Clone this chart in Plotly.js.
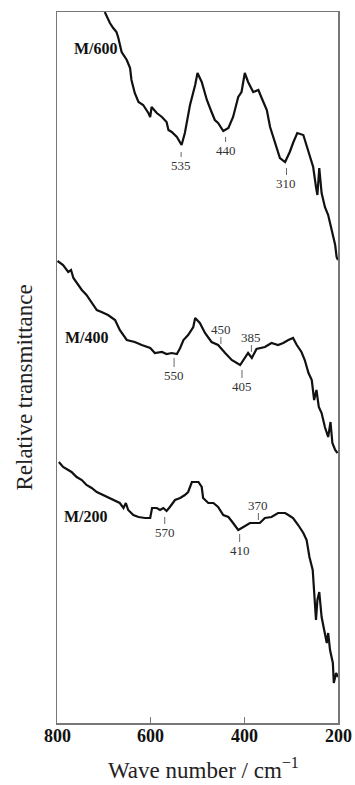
<!DOCTYPE html>
<html>
<head>
<meta charset="utf-8">
<script src="https://cdn.plot.ly/plotly-3.0.1.min.js"></script>
<style>html,body{margin:0;padding:0;background:#fff;}#chart{width:355px;height:785px;}</style>
</head>
<body>
<div id="chart"></div>
<script>
// Wavenumbers (cm-1) and relative transmittance (arbitrary units)
const m600_w = [698,687,680,673,669,662,651,644,641,634,626,616,605,601,598,587,576,566,562,555,544,534,527,516,505,500,491,480,470,463,456,445,434,424,413,406,399,392,381,370,363,352,345,335,324,313,303,296,287,274,267,260,253,247,244,240,235,228,221,217,211,206,203,200];
const m600_v = [711,700,695,691,685,671,663,655,643,630,621,618,610,606,616,610,606,601,593,591,586,578,590,618,638,650,641,623,611,603,600,592,595,606,626,631,650,641,631,633,625,613,596,580,565,561,571,580,590,588,578,566,556,536,528,555,530,516,508,500,486,478,466,463];

const m400_w = [799,787,776,770,765,758,747,737,726,715,705,691,676,666,651,634,619,601,591,576,566,555,544,537,530,520,509,505,495,484,470,456,441,427,409,399,392,384,374,356,342,328,317,306,296,288,278,271,263,256,251,246,241,235,228,221,216,212,206,201];
const m400_v = [462,458,451,453,445,440,433,428,420,413,411,408,403,393,383,381,378,375,370,371,369,370,369,375,383,388,396,405,400,390,381,378,370,363,358,365,370,365,374,376,380,378,380,383,385,378,371,363,350,343,323,333,316,310,296,286,301,280,273,270];

const m200_w = [796,787,776,769,758,747,737,726,715,701,691,680,666,658,653,648,637,626,612,601,597,587,580,573,566,559,548,537,527,520,512,498,491,488,477,466,456,445,434,424,413,402,388,377,367,356,342,328,313,306,296,285,274,267,261,254,251,247,244,240,235,230,224,221,217,211,209,204,200];
const m200_v = [261,256,253,251,246,243,238,235,231,228,226,223,220,215,220,213,208,206,205,205,215,215,213,215,212,216,223,225,228,231,241,241,236,225,220,220,216,208,206,200,193,196,200,200,200,205,206,210,210,208,205,198,190,183,166,153,133,103,123,131,106,93,80,90,73,60,40,50,46];

const seriesNames = ["M/600", "M/400", "M/200"];
const seriesNameW = [768, 788, 790];
const seriesNameV = [675, 386, 207];

const peakLabels = ["535", "440", "310", "550", "405", "450", "385", "570", "410", "370"];
const peakW = [535, 440, 310, 550, 405, 450, 385, 570, 410, 370];
const peakV = [571, 586, 555, 365, 353, 379, 371, 206, 189, 203];
const peakOffset = [13, 13, 15, 17, 16, -15, -15, 15, 16, -15];

const xTicks = [800, 600, 400, 200];

const serif = "Liberation Serif, Times New Roman, serif";
const lineStyle = {color: "#111", width: 2.2};

const traces = [
  {x: m600_w, y: m600_v, mode: "lines", line: lineStyle, name: "M/600", hoverinfo: "skip"},
  {x: m400_w, y: m400_v, mode: "lines", line: lineStyle, name: "M/400", hoverinfo: "skip"},
  {x: m200_w, y: m200_v, mode: "lines", line: lineStyle, name: "M/200", hoverinfo: "skip"}
];

const annotations = [];
seriesNames.forEach((n, i) => {
  annotations.push({x: seriesNameW[i], y: seriesNameV[i], xref: "x", yref: "y", text: "<b>" + n + "</b>",
    showarrow: false, xanchor: "left", yanchor: "middle", font: {family: serif, size: 16, color: "#111"}});
});
peakLabels.forEach((t, i) => {
  annotations.push({x: peakW[i], y: peakV[i], xref: "x", yref: "y", text: t,
    showarrow: true, arrowhead: 0, arrowwidth: 1, arrowcolor: "#666", ax: 0, ay: peakOffset[i],
    font: {family: serif, size: 13, color: "#333"}, borderpad: 0});
});
xTicks.forEach(v => {
  annotations.push({x: v, y: 0, xref: "x", yref: "paper", text: "<b>" + v + "</b>",
    showarrow: false, xanchor: "center", yanchor: "top", yshift: -2, borderpad: 0,
    font: {family: serif, size: 18, color: "#111"}});
});
annotations.push({x: -0.117, y: 0.472, xref: "paper", yref: "paper", text: "Relative transmittance",
  textangle: -90, showarrow: false, xanchor: "center", yanchor: "middle",
  font: {family: serif, size: 23, color: "#222"}});
annotations.push({x: 0.523, y: -0.0855, xref: "paper", yref: "paper", text: "Wave number / cm<sup>\u22121</sup>",
  showarrow: false, xanchor: "center", yanchor: "bottom", borderpad: 0,
  font: {family: serif, size: 23, color: "#222"}});

const layout = {
  width: 355, height: 785,
  margin: {l: 57, r: 17, t: 12, b: 62},
  paper_bgcolor: "#fff", plot_bgcolor: "#fff",
  showlegend: false,
  xaxis: {range: [800, 200], tickvals: xTicks, showticklabels: false,
    ticks: "inside", ticklen: 6, tickcolor: "#777", tickwidth: 1.5,
    showline: true, mirror: true, linecolor: "#777", linewidth: 1.5,
    showgrid: false, zeroline: false},
  yaxis: {range: [0, 711], showticklabels: false, ticks: "",
    showline: true, mirror: true, linecolor: "#777", linewidth: 1.5,
    showgrid: false, zeroline: false},
  annotations: annotations
};

Plotly.newPlot("chart", traces, layout, {displayModeBar: false, staticPlot: true});
</script>
</body>
</html>
